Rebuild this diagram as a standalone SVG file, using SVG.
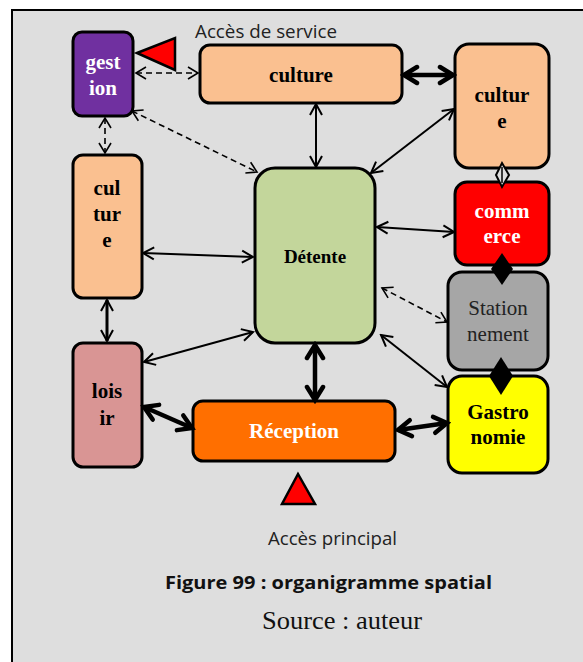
<svg xmlns="http://www.w3.org/2000/svg" width="583" height="662" viewBox="0 0 583 662">
<style>
.box{stroke:#000;stroke-width:3}
.lbl{font-family:"Liberation Serif",serif;font-weight:bold;font-size:21px;text-anchor:middle}
.w{fill:#fff}
.k{fill:#000}
.thin{stroke:#000;stroke-width:2;fill:none;marker-start:url(#aThin);marker-end:url(#aThin)}
.thick{stroke:#000;stroke-width:4.5;fill:none;marker-start:url(#aThick);marker-end:url(#aThick)}
.dash{stroke:#000;stroke-width:1.6;fill:none;stroke-dasharray:6 4;marker-start:url(#aDash);marker-end:url(#aDash)}
.cap{font-family:"Open Sans","Liberation Sans",sans-serif;font-size:18px;fill:#222}
</style>
<defs>
<marker id="aThin" viewBox="-13 -8 15 16" refX="0" refY="0" markerWidth="15" markerHeight="16" markerUnits="userSpaceOnUse" orient="auto-start-reverse">
<path d="M-11,-6 L0,0 L-11,6" fill="none" stroke="#000" stroke-width="2"/>
</marker>
<marker id="aThick" viewBox="-18 -12 22 24" refX="0" refY="0" markerWidth="22" markerHeight="24" markerUnits="userSpaceOnUse" orient="auto-start-reverse">
<path d="M-13,-8 L0,0 L-13,8" fill="none" stroke="#000" stroke-width="4.5" stroke-linecap="round"/>
</marker>
<marker id="aDash" viewBox="-13 -8 15 16" refX="0" refY="0" markerWidth="15" markerHeight="16" markerUnits="userSpaceOnUse" orient="auto-start-reverse">
<path d="M-10,-6 L0,0 L-10,6" fill="none" stroke="#000" stroke-width="1.6"/>
</marker>
</defs>
<rect x="12" y="10" width="580" height="670" fill="#dedede" stroke="#000" stroke-width="2"/>

<g id="n-gestion">
<rect class="box" x="73" y="32" width="60" height="84" rx="9" fill="#7030a0"/>
<text class="lbl w" x="103" y="69">gest</text>
<text class="lbl w" x="103" y="95">ion</text>
</g>
<g id="tri-service">
<polygon points="137,53 175,38 175,70" fill="#ff0000" stroke="#000" stroke-width="2.5"/>
</g>
<g id="n-culture-top">
<rect class="box" x="200" y="45" width="202" height="58" rx="10" fill="#fac090"/>
<text class="lbl k" x="301" y="82">culture</text>
</g>
<g id="n-culture-right">
<rect class="box" x="455" y="44" width="94" height="124" rx="14" fill="#fac090"/>
<text class="lbl k" x="502" y="102">cultur</text>
<text class="lbl k" x="502" y="128">e</text>
</g>
<g id="n-commerce">
<rect class="box" x="455" y="182" width="94" height="83" rx="12" fill="#ff0000"/>
<text class="lbl w" x="502" y="218">comm</text>
<text class="lbl w" x="502" y="243">erce</text>
</g>
<g id="n-stationnement">
<rect class="box" x="448" y="272" width="100" height="98" rx="14" fill="#a6a6a6"/>
<text class="lbl" x="498" y="315" style="font-weight:normal;fill:#222">Station</text>
<text class="lbl" x="498" y="341" style="font-weight:normal;fill:#222">nement</text>
</g>
<g id="n-gastronomie">
<rect class="box" x="448" y="376" width="100" height="97" rx="14" fill="#ffff00"/>
<text class="lbl k" x="498" y="419">Gastro</text>
<text class="lbl k" x="498" y="444">nomie</text>
</g>
<g id="n-culture-left">
<rect class="box" x="73" y="155" width="69" height="143" rx="10" fill="#fac090"/>
<text class="lbl k" x="107" y="195">cul</text>
<text class="lbl k" x="107" y="221">tur</text>
<text class="lbl k" x="107" y="247">e</text>
</g>
<g id="n-loisir">
<rect class="box" x="73" y="343" width="69" height="124" rx="10" fill="#d99594"/>
<text class="lbl k" x="107" y="398">lois</text>
<text class="lbl k" x="107" y="425">ir</text>
</g>
<g id="n-detente">
<rect class="box" x="255" y="168" width="120" height="175" rx="20" fill="#c3d69b"/>
<text class="lbl k" x="315" y="263" style="font-size:19px">Détente</text>
</g>
<g id="n-reception">
<rect class="box" x="193" y="401" width="202" height="60" rx="10" fill="#ff6f00"/>
<text class="lbl w" x="294" y="438">Réception</text>
</g>
<g id="tri-principal">
<polygon points="298,474 282,504 315,504" fill="#ff0000" stroke="#000" stroke-width="2.5"/>
</g>

<g id="connectors">
<path class="dash" d="M136,73 L198,73"/>
<path class="dash" d="M132,111 L257,172"/>
<path class="dash" d="M105,118 L105,153"/>
<path class="thin" d="M316,104 L316,167"/>
<path class="thick" d="M404,75 L453,75"/>
<path class="thin" d="M454,109 L371,173"/>
<path class="thin" d="M377,227 L454,232"/>
<path class="dash" d="M382,288 L447,322"/>
<path class="thin" d="M381,335 L447,387"/>
<path class="thick" d="M398,430 L447,423"/>
<path class="thick" d="M315,345 L315,400"/>
<path class="thick" d="M144,407 L192,428"/>
<path class="thin" d="M144,362 L253,332"/>
<path class="thin" d="M143,253 L253,257"/>
<path class="thin" d="M107,300 L107,341" style="stroke-width:3"/>
<polygon points="502,163 509,175 502,187 496,175" fill="#dedede" stroke="#000" stroke-width="2"/>
<line x1="502" y1="167" x2="502" y2="183" stroke="#000" stroke-width="1.5"/>
<polygon points="502,253 513,269 502,285 491,269" fill="#000"/>
<polygon points="501,357 513,376 501,395 489,376" fill="#000"/>
</g>

<text class="cap" x="195" y="38" textLength="142" lengthAdjust="spacingAndGlyphs">Accès de service</text>
<text class="cap" x="268" y="545" textLength="129" lengthAdjust="spacingAndGlyphs">Accès principal</text>
<text x="165" y="589" font-family="'Open Sans','Liberation Sans',sans-serif" font-weight="bold" font-size="18" fill="#111" textLength="327" lengthAdjust="spacingAndGlyphs">Figure 99 : organigramme spatial</text>
<text x="262" y="629" font-family="'Liberation Serif',serif" font-size="25" fill="#111" textLength="160" lengthAdjust="spacingAndGlyphs">Source : auteur</text>
</svg>
